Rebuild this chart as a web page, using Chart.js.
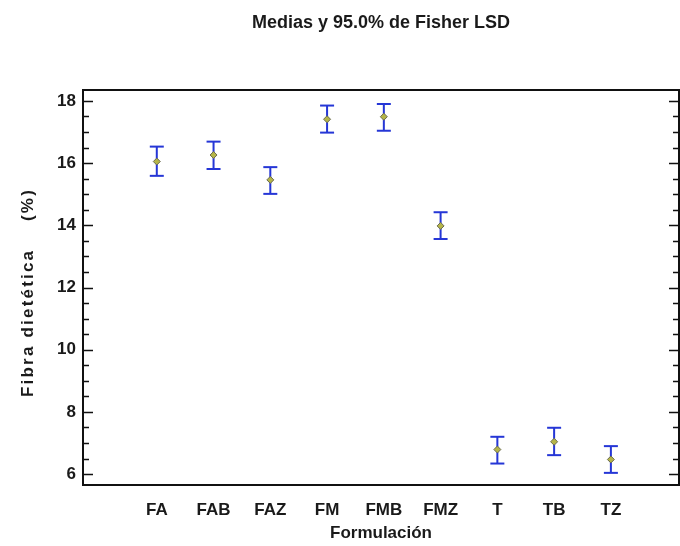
<!DOCTYPE html>
<html><head><meta charset="utf-8">
<script src="https://cdn.jsdelivr.net/npm/chart.js@4"></script>
<style>html,body{margin:0;padding:0;background:#fff}</style>
</head><body>
<canvas id="c" width="680" height="546"></canvas>
<script>
const categories = ['FA','FAB','FAZ','FM','FMB','FMZ','T','TB','TZ'];
const means = [16.05,16.26,15.46,17.41,17.49,13.98,6.79,7.04,6.47];
const lower = [15.59,15.81,15.01,16.98,17.04,13.56,6.34,6.61,6.04];
const upper = [16.53,16.69,15.87,17.85,17.90,14.42,7.20,7.49,6.90];
const yTicks = [6,8,10,12,14,16,18];
const titleText = 'Medias y 95.0% de Fisher LSD';
const xTitle = 'Formulación';
const yTitle = 'Fibra dietética    (%)';

const BLUE = '#2536d6';
const FONT = "'Liberation Sans', Arial, sans-serif";

const barData = [];
categories.forEach((c, i) => {
  barData.push({x: i, y: lower[i]}, {x: i, y: upper[i]}, {x: i, y: null});
});
const capData = [];
categories.forEach((c, i) => {
  capData.push({x: i, y: lower[i]}, {x: i, y: upper[i]});
});
const meanData = categories.map((c, i) => ({x: i, y: means[i]}));

const frame = {
  id: 'frame',
  afterDraw(chart) {
    const {ctx, chartArea: a, scales: {y}} = chart;
    ctx.save();
    ctx.strokeStyle = '#111';
    ctx.lineWidth = 1.5;
    for (let k = 0; k <= 24; k++) {
      const v = 6 + k * 0.5;
      const py = Math.round(y.getPixelForValue(v)) + 0.5;
      const L = (k % 4 === 0) ? 10 : 6;
      ctx.beginPath();
      ctx.moveTo(a.left, py); ctx.lineTo(a.left + L, py);
      ctx.moveTo(a.right, py); ctx.lineTo(a.right - L, py);
      ctx.stroke();
    }
    ctx.lineWidth = 2;
    ctx.strokeRect(a.left, a.top, a.right - a.left, a.bottom - a.top);
    // y-axis title (letter-spaced, rotated)
    ctx.translate(28, (a.top + a.bottom) / 2 + 5);
    ctx.rotate(-Math.PI / 2);
    ctx.fillStyle = '#1a1a1a';
    ctx.font = "bold 17px " + FONT;
    ctx.textAlign = 'center';
    ctx.textBaseline = 'middle';
    try { ctx.letterSpacing = '2.2px'; } catch (e) {}
    ctx.fillText(yTitle, 0, 0);
    ctx.restore();
  }
};

new Chart(document.getElementById('c'), {
  type: 'scatter',
  data: {
    datasets: [
      {type: 'line', data: barData, showLine: true, spanGaps: false, pointRadius: 0,
       borderColor: BLUE, borderWidth: 2, order: 3},
      {data: capData, pointStyle: 'line', pointRadius: 7, pointBorderWidth: 2,
       borderColor: BLUE, backgroundColor: BLUE, order: 2},
      {data: meanData, pointStyle: 'rectRot', pointRadius: 3.5, pointBorderWidth: 1,
       borderColor: '#6b6b50', backgroundColor: '#b5b548', order: 1}
    ]
  },
  plugins: [frame],
  options: {
    responsive: false,
    animation: false,
    devicePixelRatio: 1,
    layout: {autoPadding: false, padding: {left: 0, right: 1, top: 0, bottom: 0}},
    plugins: {legend: {display: false}, tooltip: {enabled: false}, title: {display: false}},
    scales: {
      x: {
        type: 'linear', position: 'bottom', min: -1.3, max: 9.2,
        afterBuildTicks: s => { s.ticks = categories.map((c, i) => ({value: i})); },
        afterFit: s => { s.height = 61; s.paddingLeft = 0; s.paddingRight = 0; },
        grid: {display: false, drawTicks: false},
        border: {display: false},
        ticks: {padding: 15, color: '#1a1a1a', font: {family: FONT, size: 17, weight: 'bold'},
                callback: v => categories[v] ?? '', autoSkip: false, maxRotation: 0},
        title: {display: true, text: xTitle, color: '#1a1a1a', padding: {top: 0, bottom: 2},
                font: {family: FONT, size: 17, weight: 'bold'}}
      },
      x2: {
        type: 'linear', position: 'top', display: true,
        afterFit: s => { s.height = 90; s.paddingLeft = 0; s.paddingRight = 0; },
        grid: {display: false, drawTicks: false},
        border: {display: false},
        ticks: {display: false},
        title: {display: true, text: titleText, color: '#1a1a1a', padding: {top: 12, bottom: 0},
                font: {family: FONT, size: 18, weight: 'bold'}}
      },
      y: {
        type: 'linear', min: 5.65, max: 18.35,
        afterBuildTicks: s => { s.ticks = yTicks.map(v => ({value: v})); },
        afterFit: s => { s.width = 83; s.paddingTop = 0; s.paddingBottom = 0; },
        grid: {display: false, drawTicks: false},
        border: {display: false},
        ticks: {padding: 7, color: '#1a1a1a', font: {family: FONT, size: 17, weight: 'bold'}}
      }
    }
  }
});
</script>
</body></html>
